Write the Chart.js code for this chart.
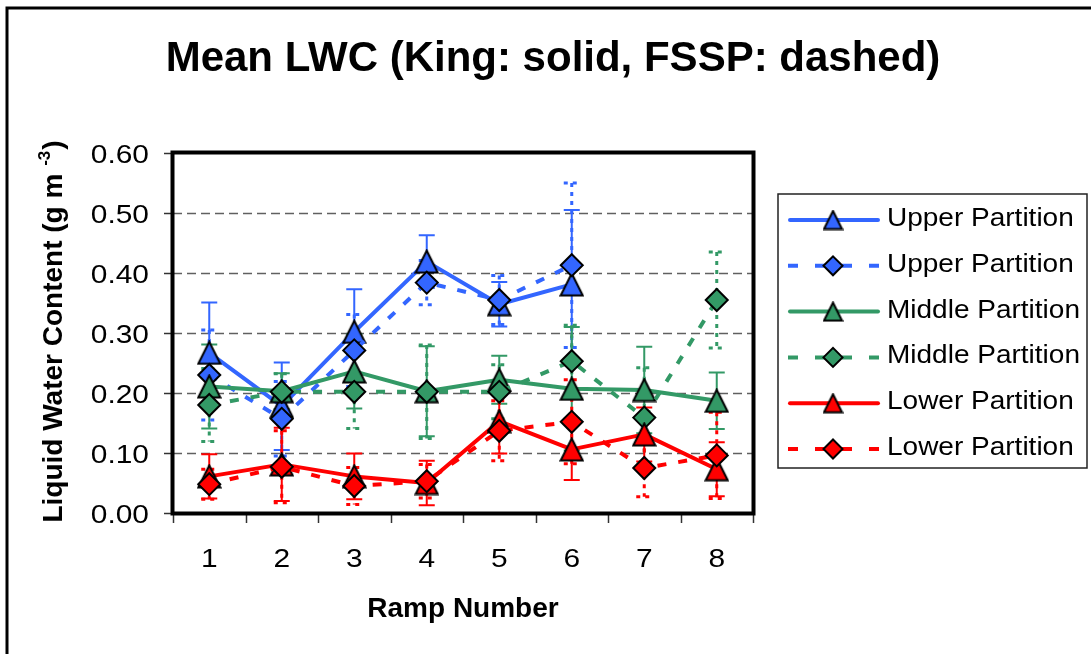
<!DOCTYPE html>
<html>
<head>
<meta charset="utf-8">
<title>Mean LWC</title>
<script src="https://cdn.jsdelivr.net/npm/chart.js@4.4.1/dist/chart.umd.min.js"></script>
<style>
  html, body { margin: 0; padding: 0; background: #fff; }
  #wrap { width: 1091px; height: 654px; position: relative; }
</style>
</head>
<body>
<div id="wrap"><canvas id="lwc" width="1091" height="654"></canvas></div>
<script>
// ramp numbers on the x axis, y axis ticks
var ramps = ['1', '2', '3', '4', '5', '6', '7', '8'];
var yTicks = [0, 0.1, 0.2, 0.3, 0.4, 0.5, 0.6];

// mean LWC (g m-3) and error bar half widths, King probe (solid) and FSSP (dashed)
var upperKing     = [0.267, 0.178, 0.302, 0.419, 0.348, 0.381, null, null];
var upperKingErr  = [0.084, 0.073, 0.071, 0.044, 0.037, 0.124, null, null];
var upperFssp     = [0.230, 0.157, 0.271, 0.384, 0.355, 0.413, null, null];
var upperFsspErr  = [0.075, 0.062, 0.060, 0.037, 0.041, 0.137, null, null];
var middleKing    = [0.211, 0.203, 0.236, 0.203, 0.222, 0.207, 0.205, 0.187];
var middleKingErr = [0.070, 0.030, 0.062, 0.075, 0.040, 0.103, 0.072, 0.047];
var middleFssp    = [0.180, 0.202, 0.202, 0.202, 0.202, 0.253, 0.159, 0.355];
var middleFsspErr = [0.061, 0.030, 0.061, 0.078, 0.045, 0.060, 0.083, 0.080];
var lowerKing     = [0.061, 0.081, 0.061, 0.050, 0.153, 0.106, 0.131, 0.073];
var lowerKingErr  = [0.037, 0.061, 0.038, 0.037, 0.054, 0.051, 0.045, 0.045];
var lowerFssp     = [0.048, 0.077, 0.045, 0.053, 0.137, 0.152, 0.075, 0.096];
var lowerFsspErr  = [0.025, 0.060, 0.031, 0.028, 0.050, 0.070, 0.048, 0.072];

var FONT = '"Liberation Sans", Arial, Helvetica, sans-serif';
var BLUE = '#3366ff', GREEN = '#339966', RED = '#ff0000';
var DASH = [9, 12];

// excel style triangle marker (as tall as it is wide, centred on the point)
function triangle(color, size) {
    var c = document.createElement('canvas');
    c.width = size;
    c.height = size;
    var g = c.getContext('2d');
    g.beginPath();
    g.moveTo(size / 2, 1.5);
    g.lineTo(size - 1.5, size - 1.5);
    g.lineTo(1.5, size - 1.5);
    g.closePath();
    g.fillStyle = color;
    g.fill();
    g.lineWidth = 2;
    g.lineJoin = 'miter';
    g.strokeStyle = '#000';
    g.stroke();
    return c;
}

function series(label, data, err, color, fssp) {
    return {
        label: label,
        data: data,
        errors: err,
        fssp: fssp,
        color: color,
        borderColor: color,
        backgroundColor: color,
        borderWidth: 4,
        borderDash: fssp ? DASH : [],
        borderCapStyle: fssp ? 'butt' : 'round',
        borderJoinStyle: 'round',
        pointStyle: fssp ? 'rectRot' : triangle(color, 25),
        legendStyle: fssp ? 'rectRot' : triangle(color, 21),
        pointRadius: fssp ? 11 : 12,
        pointBackgroundColor: color,
        pointBorderColor: '#000',
        pointBorderWidth: 2,
        tension: 0,
        fill: false,
        clip: false
    };
}

// draw text squeezed / stretched horizontally
function text(ctx, s, x, y, font, align, sx) {
    ctx.save();
    ctx.font = font;
    ctx.fillStyle = '#000';
    ctx.textAlign = align;
    ctx.textBaseline = 'alphabetic';
    ctx.translate(x, y);
    ctx.scale(sx || 1, 1);
    ctx.fillText(s, 0, 0);
    ctx.restore();
}

var decor = {
    id: 'decor',
    beforeDatasetsDraw: function (chart) {
        var ctx = chart.ctx, a = chart.chartArea;
        var ys = chart.scales.y, xs = chart.scales.x;

        // outer frame (runs off the right and bottom edges)
        ctx.save();
        ctx.strokeStyle = '#000';
        ctx.lineWidth = 3;
        ctx.strokeRect(7, 8, 1200, 800);
        ctx.restore();

        // dashed gridlines
        ctx.save();
        ctx.strokeStyle = '#606060';
        ctx.lineWidth = 1.5;
        ctx.setLineDash([9, 5]);
        yTicks.forEach(function (v) {
            if (v === 0 || v === 0.6) return;
            var py = Math.round(ys.getPixelForValue(v)) + 0.5;
            ctx.beginPath();
            ctx.moveTo(a.left, py);
            ctx.lineTo(a.right, py);
            ctx.stroke();
        });
        ctx.restore();

        // tick marks
        ctx.save();
        ctx.strokeStyle = '#333';
        ctx.lineWidth = 1.5;
        yTicks.forEach(function (v) {
            var py = Math.round(ys.getPixelForValue(v)) + 0.5;
            ctx.beginPath();
            ctx.moveTo(a.left - 9, py);
            ctx.lineTo(a.left, py);
            ctx.stroke();
        });
        var half = (xs.getPixelForValue(1) - xs.getPixelForValue(0)) / 2;
        for (var k = 0; k <= ramps.length; k++) {
            var px = Math.round(xs.getPixelForValue(k) - half) + 0.5;
            ctx.beginPath();
            ctx.moveTo(px, a.bottom);
            ctx.lineTo(px, a.bottom + 10);
            ctx.stroke();
        }
        ctx.restore();

        // error bars
        chart.data.datasets.forEach(function (ds, i) {
            var meta = chart.getDatasetMeta(i);
            ctx.save();
            ctx.strokeStyle = ds.color;
            ctx.lineWidth = ds.fssp ? 3 : 2;
            ctx.setLineDash(ds.fssp ? [4, 5] : []);
            meta.data.forEach(function (pt, j) {
                var v = ds.data[j], e = ds.errors[j];
                if (v == null || e == null) return;
                var x = pt.x;
                var hi = ys.getPixelForValue(v + e), lo = ys.getPixelForValue(v - e);
                ctx.beginPath();
                ctx.moveTo(x, hi); ctx.lineTo(x, lo);
                ctx.moveTo(x - 8, hi); ctx.lineTo(x + 8, hi);
                ctx.moveTo(x - 8, lo); ctx.lineTo(x + 8, lo);
                ctx.stroke();
            });
            ctx.restore();
        });
    },
    afterDraw: function (chart) {
        var ctx = chart.ctx, a = chart.chartArea;
        var ys = chart.scales.y, xs = chart.scales.x;

        // plot area border
        ctx.save();
        ctx.strokeStyle = '#000';
        ctx.lineWidth = 4;
        ctx.strokeRect(a.left - 0.5, a.top - 0.5, a.right - a.left + 1, a.bottom - a.top + 1);
        ctx.restore();

        // title
        text(ctx, 'Mean LWC (King: solid, FSSP: dashed)', 553, 71, 'bold 42px ' + FONT, 'center', 1);

        // tick labels
        yTicks.forEach(function (v) {
            text(ctx, v.toFixed(2), 149, ys.getPixelForValue(v) + 10, '26px ' + FONT, 'right', 1.15);
        });
        ramps.forEach(function (r, j) {
            text(ctx, r, xs.getPixelForValue(j), 567, '26px ' + FONT, 'center', 1.15);
        });

        // axis titles
        text(ctx, 'Ramp Number', (a.left + a.right) / 2, 617, 'bold 28px ' + FONT, 'center', 1);

        ctx.save();
        ctx.translate(62, 332);
        ctx.rotate(-Math.PI / 2);
        ctx.fillStyle = '#000';
        ctx.textBaseline = 'alphabetic';
        ctx.textAlign = 'left';
        var main = 'Liquid Water Content (g m ', sup = '-3', tail = ')';
        ctx.font = 'bold 28px ' + FONT;
        var w1 = ctx.measureText(main).width, w3 = ctx.measureText(tail).width;
        ctx.font = 'bold 17px ' + FONT;
        var w2 = ctx.measureText(sup).width;
        var x0 = -(w1 + w2 + w3) / 2;
        ctx.font = 'bold 28px ' + FONT;
        ctx.fillText(main, x0, 0);
        ctx.font = 'bold 17px ' + FONT;
        ctx.fillText(sup, x0 + w1, -12);
        ctx.font = 'bold 28px ' + FONT;
        ctx.fillText(tail, x0 + w1 + w2 + 1, 0);
        ctx.restore();

        // legend
        ctx.save();
        ctx.strokeStyle = '#222';
        ctx.lineWidth = 1.5;
        ctx.strokeRect(778, 194, 309, 274);
        ctx.restore();
        chart.data.datasets.forEach(function (ds, i) {
            var yy = 220 + i * 45.8;
            ctx.save();
            ctx.strokeStyle = ds.color;
            ctx.lineWidth = 4;
            ctx.lineCap = ds.fssp ? 'butt' : 'round';
            ctx.setLineDash(ds.fssp ? [10, 17] : []);
            ctx.beginPath();
            ctx.moveTo(ds.fssp ? 788 : 790, yy);
            ctx.lineTo(ds.fssp ? 880 : 878, yy);
            ctx.stroke();
            ctx.setLineDash([]);
            ctx.fillStyle = ds.color;
            ctx.strokeStyle = '#000';
            ctx.lineWidth = 2;
            Chart.helpers.drawPoint(ctx, {
                pointStyle: ds.legendStyle,
                radius: 9.5,
                rotation: 0,
                borderWidth: 2
            }, 833, yy);
            ctx.restore();
            text(ctx, ds.label, 887, yy + 6, '25px ' + FONT, 'left', 1.12);
        });
    }
};

var datasets = [
    series('Upper Partition', upperKing, upperKingErr, BLUE, false),
    series('Upper Partition', upperFssp, upperFsspErr, BLUE, true),
    series('Middle Partition', middleKing, middleKingErr, GREEN, false),
    series('Middle Partition', middleFssp, middleFsspErr, GREEN, true),
    series('Lower Partition', lowerKing, lowerKingErr, RED, false),
    series('Lower Partition', lowerFssp, lowerFsspErr, RED, true)
];
// later series sit on top, as in the original
datasets.forEach(function (ds, i) { ds.order = datasets.length - i; });

new Chart(document.getElementById('lwc'), {
    type: 'line',
    data: { labels: ramps, datasets: datasets },
    options: {
        responsive: false,
        animation: false,
        events: [],
        layout: { padding: { left: 173, top: 153, right: 338, bottom: 141 } },
        plugins: {
            legend: { display: false },
            title: { display: false },
            tooltip: { enabled: false }
        },
        scales: {
            x: { type: 'category', offset: true, display: false },
            y: { min: 0, max: 0.6, display: false }
        }
    },
    plugins: [decor]
});
</script>
</body>
</html>
